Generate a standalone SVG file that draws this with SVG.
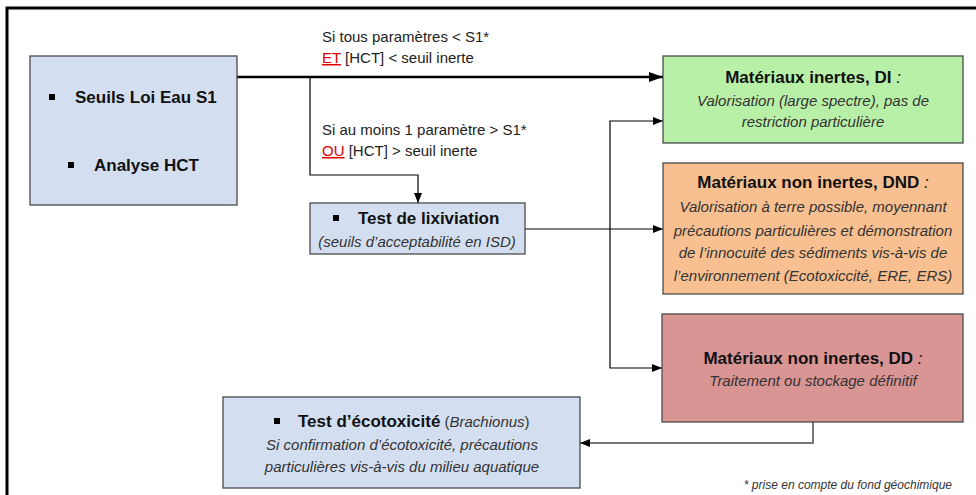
<svg xmlns="http://www.w3.org/2000/svg" width="976" height="495" viewBox="0 0 976 495">
<defs>
<style>
text{font-family:"Liberation Sans",Arial,sans-serif;}
.box{stroke:#4a4a4a;stroke-width:1.3;}
.blue{fill:#d3dff0;}
.t{font-size:17px;font-weight:bold;fill:#111;}
.c{font-size:15px;font-style:italic;fill:#333;}
.lbl{font-size:15px;fill:#222;}
.red{fill:#e00000;text-decoration:underline;}
.ln{fill:none;stroke:#000;stroke-width:1.2;}
</style>
<marker id="ah" markerWidth="10" markerHeight="8" refX="10" refY="4" orient="auto" markerUnits="userSpaceOnUse">
<path d="M0,0 L10,4 L0,8 Z" fill="#000"/>
</marker>
<marker id="ahb" markerWidth="14" markerHeight="10" refX="14" refY="5" orient="auto" markerUnits="userSpaceOnUse">
<path d="M0,0 L14,5 L0,10 Z" fill="#000"/>
</marker>
</defs>
<rect width="976" height="495" fill="#fff"/>
<path d="M7,495 V8 H976" fill="none" stroke="#000" stroke-width="3"/>

<g id="connectors">
<path d="M237,77 H663" fill="none" stroke="#000" stroke-width="2.6" marker-end="url(#ahb)"/>
<path class="ln" d="M310,77 V175 H418 V203" marker-end="url(#ah)"/>
<path class="ln" d="M525,229 H663" marker-end="url(#ah)"/>
<path class="ln" d="M610,245 V121 H663" marker-end="url(#ah)"/>
<path class="ln" d="M610,245 V368 H662" marker-end="url(#ah)"/>
<path d="M813,422 V443 H580" fill="none" stroke="#777" stroke-width="2" marker-end="url(#ah)"/>
<text class="lbl" x="322" y="42">Si tous paramètres &lt; S1*</text>
<text class="lbl" x="322" y="63"><tspan class="red">ET</tspan> [HCT] &lt; seuil inerte</text>
<text class="lbl" x="322" y="135">Si au moins 1 paramètre &gt; S1*</text>
<text class="lbl" x="322" y="156"><tspan class="red">OU</tspan> [HCT] &gt; seuil inerte</text>
</g>

<g id="seuils">
<rect class="box blue" x="30" y="56" width="207" height="149"/>
<rect x="49" y="94" width="6" height="6" fill="#000"/>
<text class="t" x="75" y="103">Seuils Loi Eau S1</text>
<rect x="68" y="162" width="6" height="6" fill="#000"/>
<text class="t" x="94" y="171">Analyse HCT</text>
</g>

<g id="lixiviation">
<rect class="box blue" x="310" y="203" width="215" height="51"/>
<rect x="333" y="215" width="6" height="6" fill="#000"/>
<text class="t" x="358" y="224">Test de lixiviation</text>
<text class="c" x="417" y="247" text-anchor="middle">(seuils d’acceptabilité en ISD)</text>
</g>

<g id="di">
<rect class="box" x="663" y="56" width="300" height="87" fill="#b9f0a8"/>
<text class="t" x="813" y="83" text-anchor="middle">Matériaux inertes, DI<tspan font-weight="normal" font-style="italic"> :</tspan></text>
<text class="c" x="813" y="106" text-anchor="middle">Valorisation (large spectre), pas de</text>
<text class="c" x="813" y="127" text-anchor="middle">restriction particulière</text>
</g>

<g id="dnd">
<rect class="box" x="663" y="163" width="300" height="131" fill="#f8bf90"/>
<text class="t" x="813" y="188" text-anchor="middle">Matériaux non inertes, DND<tspan font-weight="normal" font-style="italic"> :</tspan></text>
<text class="c" x="813" y="212" text-anchor="middle">Valorisation à terre possible, moyennant</text>
<text class="c" x="813" y="236" text-anchor="middle">précautions particulières et démonstration</text>
<text class="c" x="813" y="258" text-anchor="middle">de l’innocuité des sédiments vis-à-vis de</text>
<text class="c" x="813" y="281" text-anchor="middle">l’environnement (Ecotoxiccité, ERE, ERS)</text>
</g>

<g id="dd">
<rect class="box" x="662" y="314" width="301" height="108" fill="#d99494"/>
<text class="t" x="813" y="364" text-anchor="middle">Matériaux non inertes, DD<tspan font-weight="normal" font-style="italic"> :</tspan></text>
<text class="c" x="813" y="386" text-anchor="middle">Traitement ou stockage définitif</text>
</g>

<g id="ecotox">
<rect class="box blue" x="223" y="397" width="357" height="91"/>
<rect x="274" y="418" width="6" height="6" fill="#000"/>
<text class="t" x="298" y="427">Test d’écotoxicité<tspan font-weight="normal" font-size="15px" fill="#333"> (<tspan font-style="italic">Brachionus</tspan>)</tspan></text>
<text class="c" x="402" y="450" text-anchor="middle">Si confirmation d’écotoxicité, précautions</text>
<text class="c" x="402" y="472" text-anchor="middle">particulières vis-à-vis du milieu aquatique</text>
</g>

<text x="952" y="489" text-anchor="end" style="font-size:12px;font-style:italic;fill:#333">* prise en compte du fond géochimique</text>
</svg>
